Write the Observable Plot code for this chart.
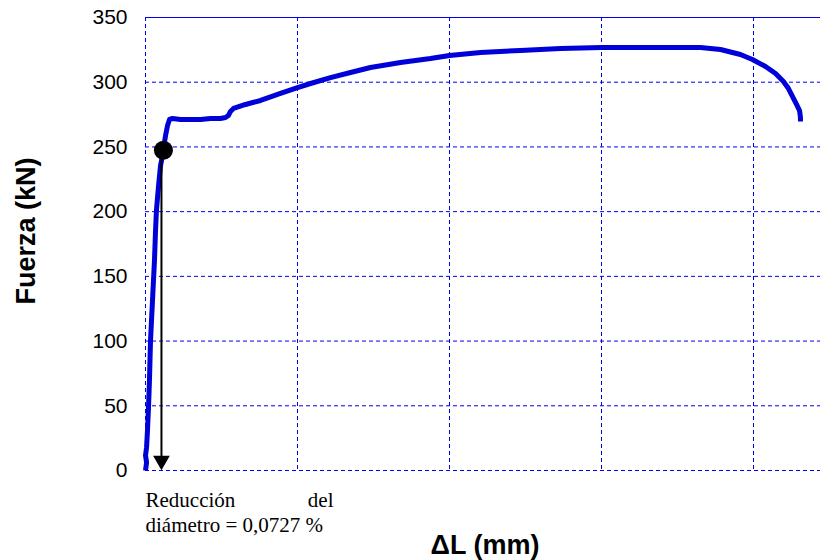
<!DOCTYPE html>
<html>
<head>
<meta charset="utf-8">
<script src="https://cdn.jsdelivr.net/npm/d3@7"></script>
<script src="https://cdn.jsdelivr.net/npm/@observablehq/plot@0.6"></script>
<style>
  body { margin: 0; background: #fff; }
  #chart svg { display: block; }
</style>
</head>
<body>
<div id="chart"></div>
<script>
// ΔL in grid units (no x tick labels in the original), Fuerza in kN
const deltaL = [0, 0.007, 0, 0.007, 0.013, 0.020, 0.026, 0.033, 0.046, 0.059, 0.066, 0.072, 0.086, 0.099, 0.112, 0.118, 0.132, 0.145, 0.158, 0.178, 0.230, 0.296, 0.362, 0.428, 0.493, 0.526, 0.546, 0.559, 0.579, 0.658, 0.757, 0.888, 1.0, 1.086, 1.217, 1.349, 1.480, 1.678, 1.875, 2.0, 2.204, 2.467, 2.730, 3.0, 3.322, 3.651, 3.783, 3.914, 3.993, 4.079, 4.145, 4.197, 4.230, 4.257, 4.283, 4.303, 4.309, 4.309];
const fuerza = [0, 6.2, 11.6, 17.8, 30.9, 49.4, 69.5, 100.4, 131.3, 162.2, 185.4, 200.9, 220.2, 235.6, 243.4, 248.8, 258.8, 266.6, 271.2, 272.0, 271.2, 271.2, 271.2, 272.0, 272.0, 272.7, 274.3, 277.4, 279.7, 282.8, 285.9, 291.3, 295.9, 299.0, 303.6, 307.5, 311.4, 315.2, 318.3, 320.6, 323.0, 324.5, 326.0, 326.8, 326.8, 326.8, 325.3, 321.4, 317.5, 312.1, 306.7, 300.5, 295.1, 288.9, 282.8, 278.1, 272.7, 269.6];
const yTicks = [0, 50, 100, 150, 200, 250, 300, 350];
const xGrid = [0, 1, 2, 3, 4];
const xMax = 675 / 152;
const pointDL = [0.118];
const pointF = [247.5];
const arrowDL = [0.105];
const arrowTop = [247.5];
const arrowBottom = [6];
const arrowHeadF = [7.6];
const yTitle = "Fuerza (kN)";
const xTitle = "ΔL (mm)";
const noteLine1a = "Reducción";
const noteLine1b = "del";
const noteLine2 = "diámetro = 0,0727 %";

const curve = deltaL.map((d, i) => ({dL: d, F: fuerza[i]}));
const gridX = xGrid.map(d => ({dL: d}));
const sans = "'Liberation Sans', Arial, sans-serif";
const serif = "'Liberation Serif', 'Times New Roman', serif";
const gridColor = "#0000ee";
const lineColor = "#0000d8";

const chart = Plot.plot({
  width: 820,
  height: 560,
  marginLeft: 145,
  marginRight: 0,
  marginTop: 17,
  marginBottom: 90,
  style: { fontFamily: sans, background: "#fff", overflow: "visible" },
  x: { domain: [0, xMax], axis: null },
  y: { domain: [0, 350], axis: null },
  marks: [
    Plot.ruleY(yTicks.filter(t => t < 350), {stroke: gridColor, strokeWidth: 1, strokeDasharray: "4,3"}),
    Plot.ruleX(gridX, {x: "dL", stroke: gridColor, strokeWidth: 1, strokeDasharray: "4,3"}),
    Plot.ruleY([350], {stroke: gridColor, strokeWidth: 1.2}),
    Plot.axisY({ticks: yTicks, tickSize: 0, tickPadding: 18, fontSize: 21, label: null, tickFormat: d => String(d)}),
    Plot.line(curve, {x: "dL", y: "F", stroke: lineColor, strokeWidth: 5, strokeLinejoin: "round", strokeLinecap: "butt"}),
    Plot.ruleX(arrowDL.map((d, i) => ({dL: d, top: arrowTop[i], bottom: arrowBottom[i]})), {x: "dL", y1: "top", y2: "bottom", stroke: "#000", strokeWidth: 2}),
    Plot.dot(arrowDL.map((d, i) => ({dL: d, F: arrowHeadF[i]})), {x: "dL", y: "F", symbol: "triangle", rotate: 180, r: 6.2, fill: "#000", stroke: "none"}),
    Plot.dot(pointDL.map((d, i) => ({dL: d, F: pointF[i]})), {x: "dL", y: "F", r: 9.5, fill: "#000", stroke: "none"}),
    Plot.text([yTitle], {frameAnchor: "left", text: d => d, textAnchor: "middle", lineAnchor: "middle", rotate: -90, dx: -119, dy: -13, fontSize: 27, fontWeight: "bold", fill: "#000"}),
    Plot.text([xTitle], {frameAnchor: "bottom", text: d => d, textAnchor: "middle", lineAnchor: "middle", dx: 2, dy: 75, fontSize: 27, fontWeight: "bold", fill: "#000"}),
    Plot.text([noteLine1a], {frameAnchor: "bottom-left", text: d => d, textAnchor: "start", lineAnchor: "middle", dx: 0, dy: 30, fontSize: 21, fontFamily: serif, fill: "#000"}),
    Plot.text([noteLine1b], {frameAnchor: "bottom-left", text: d => d, textAnchor: "end", lineAnchor: "middle", dx: 188, dy: 30, fontSize: 21, fontFamily: serif, fill: "#000"}),
    Plot.text([noteLine2], {frameAnchor: "bottom-left", text: d => d, textAnchor: "start", lineAnchor: "middle", dx: 0, dy: 55, fontSize: 21, fontFamily: serif, fill: "#000"})
  ]
});
document.getElementById("chart").appendChild(chart);
</script>
</body>
</html>
